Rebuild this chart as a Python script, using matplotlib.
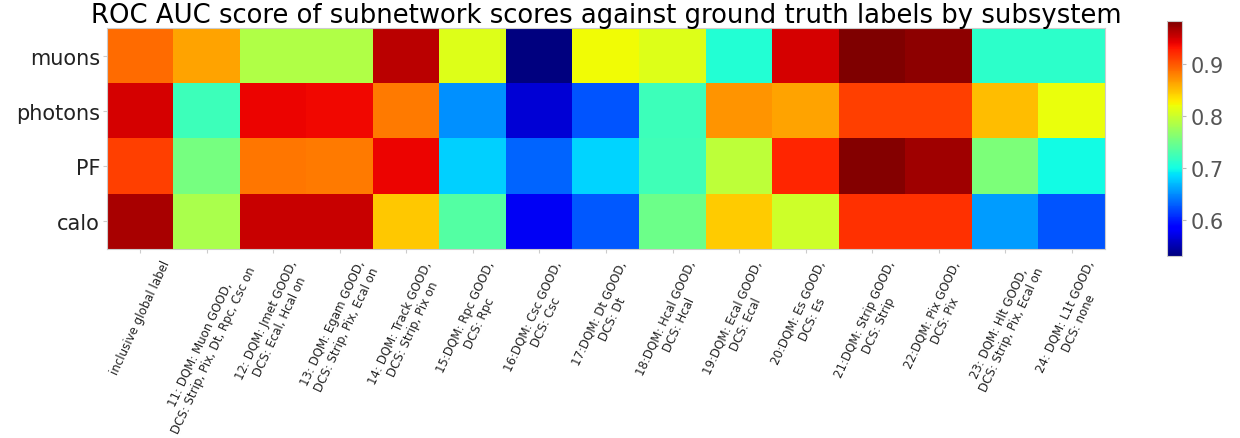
import matplotlib.pyplot as plt
import numpy as np

subsystems = ['muons', 'photons', 'PF', 'calo']
labels = [
    'inclusive global label',
    '11: DQM: Muon GOOD,\nDCS: Strip, Pix, Dt, Rpc, Csc on',
    '12: DQM: Jmet GOOD,\nDCS: Ecal, Hcal on',
    '13: DQM: Egam GOOD,\nDCS: Strip, Pix, Ecal on',
    '14: DQM: Track GOOD,\nDCS: Strip, Pix on',
    '15:DQM: Rpc GOOD,\nDCS: Rpc',
    '16:DQM: Csc GOOD,\nDCS: Csc',
    '17:DQM: Dt GOOD,\nDCS: Dt',
    '18:DQM: Hcal GOOD,\nDCS: Hcal',
    '19:DQM: Ecal GOOD,\nDCS: Ecal',
    '20:DQM: Es GOOD,\nDCS: Es',
    '21:DQM: Strip GOOD,\nDCS: Strip',
    '22:DQM: Pix GOOD,\nDCS: Pix',
    '23: DQM: Hlt GOOD,\nDCS: Strip, Pix, Ecal on',
    '24: DQM: L1t GOOD,\nDCS: none',
]

# roc auc per subsystem (rows) and label (columns)
auc_muons = [0.890, 0.863, 0.787, 0.787, 0.960, 0.810, 0.531, 0.821, 0.810, 0.709, 0.949, 0.983, 0.976, 0.714, 0.714]
auc_photons = [0.949, 0.723, 0.939, 0.938, 0.883, 0.652, 0.565, 0.626, 0.723, 0.870, 0.863, 0.912, 0.912, 0.851, 0.818]
auc_pf = [0.912, 0.755, 0.885, 0.883, 0.939, 0.680, 0.632, 0.682, 0.725, 0.793, 0.923, 0.980, 0.970, 0.758, 0.700]
auc_calo = [0.966, 0.783, 0.953, 0.953, 0.847, 0.735, 0.577, 0.628, 0.749, 0.845, 0.802, 0.918, 0.918, 0.658, 0.626]

scores = np.array([auc_muons, auc_photons, auc_pf, auc_calo])

fig = plt.figure(figsize=(12.4, 4.39), dpi=100)
ax = fig.add_axes([0.0863, 0.4305, 0.8048, 0.5034])
cax = fig.add_axes([0.941, 0.4146, 0.0121, 0.5353])

im = ax.imshow(scores, cmap='jet', aspect='auto', interpolation='nearest')

ax.set_xticks(np.arange(len(labels)))
ax.set_xticklabels(labels, rotation=65, fontsize=8.5, color='#222222')
ax.set_yticks(np.arange(len(subsystems)))
ax.set_yticklabels(subsystems, fontsize=15, color='#222222')
ax.tick_params(color='#cccccc', length=3)
ax.tick_params(axis='y', pad=2)
for s in ax.spines.values():
    s.set_color('#cccccc')
ax.set_title('ROC AUC score of subnetwork scores against ground truth labels by subsystem',
             fontsize=18.6, pad=2)

cb = fig.colorbar(im, cax=cax)
cb.set_ticks([0.6, 0.7, 0.8, 0.9])
cb.ax.tick_params(labelsize=15, labelcolor='#555555', color='#bbbbbb', length=3)
cb.outline.set_edgecolor('#cccccc')

fig.savefig('out.png', dpi=100)
